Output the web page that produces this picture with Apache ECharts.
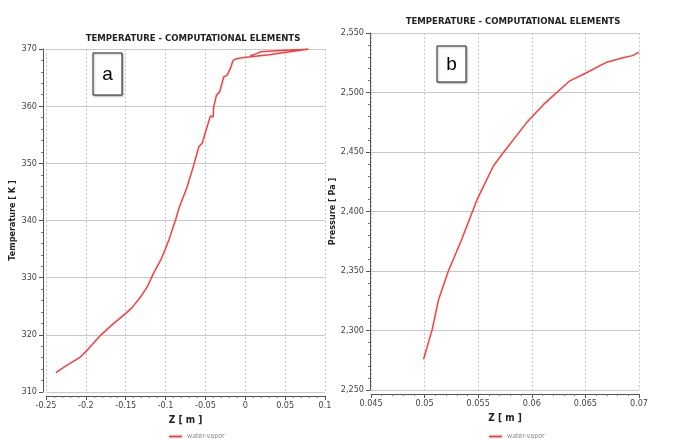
<!DOCTYPE html>
<html><head><meta charset="utf-8">
<script src="https://cdn.jsdelivr.net/npm/echarts@6/dist/echarts.min.js"></script>
<style>html,body{margin:0;padding:0;background:#fff}#c{width:673px;height:439px}</style>
</head><body><div id="c"></div>
<script>
// Panel a: temperature vs Z
const zA = [-0.2375,-0.227,-0.208,-0.199,-0.181,-0.165,-0.1496,-0.1417,-0.131,-0.123,-0.115,-0.106,-0.100,-0.0959,-0.0875,-0.0833,-0.0729,-0.0646,-0.0583,-0.0541,-0.0479,-0.0437,-0.0404,-0.0396,-0.0362,-0.0321,-0.0271,-0.0229,-0.0187,-0.0154,-0.0112,-0.002,0.030,0.060,0.079,0.050,0.019,0.0125,0.006];
const tA = [313.4,314.4,316.0,317.2,320.0,322.0,323.8,324.8,326.7,328.4,330.8,333.1,335.1,336.6,340.1,342.1,345.9,349.7,352.9,353.5,356.4,358.3,358.1,359.9,361.9,362.5,365.1,365.4,366.6,368.0,368.3,368.5,369.0,369.6,369.95,369.8,369.5,369.1,368.8];
// Panel b: pressure vs Z
const zB = [0.0499,0.0507,0.0513,0.0522,0.05345,0.0549,0.0564,0.0573,0.0595,0.0611,0.0635,0.0651,0.0670,0.0685,0.0694,0.0700];
const pB = [2275.8,2300.5,2325.8,2349.6,2376.3,2410.0,2438.0,2449.0,2474.5,2490.0,2509.5,2516.6,2525.5,2529.2,2531.0,2534.0];
const titleText = 'TEMPERATURE - COMPUTATIONAL ELEMENTS';
const seriesName = 'water-vapor';

const FONT = 'DejaVu Sans Condensed';
const RED = '#ff3b3b';
const chart = echarts.init(document.getElementById('c'));

function xAx(gi, min, max, interval, fmt) {
  return {
    type: 'value', gridIndex: gi, min: min, max: max, interval: interval, offset: 4,
    name: 'Z [ m ]', nameLocation: 'middle', nameGap: 19,
    nameTextStyle: {fontFamily: FONT, fontWeight: 'bold', fontSize: 10, color: '#222'},
    axisLine: {show: true, onZero: false, lineStyle: {color: '#555'}},
    axisTick: {show: true, length: 4, lineStyle: {color: '#555'}},
    minorTick: {show: true, splitNumber: 5, length: 2, lineStyle: {color: '#777'}},
    axisLabel: {fontFamily: FONT, fontSize: 9, color: '#444', margin: 5, formatter: fmt},
    splitLine: {show: true, lineStyle: {color: '#c8c8c8', type: [2, 2]}}
  };
}
function yAx(gi, min, max, interval, name, fmt, off, gap) {
  return {
    type: 'value', gridIndex: gi, min: min, max: max, interval: interval, offset: off,
    name: name, nameLocation: 'middle', nameRotate: 90, nameGap: gap,
    nameTextStyle: {fontFamily: FONT, fontWeight: 'bold', fontSize: 9, color: '#222'},
    axisLine: {show: true, onZero: false, lineStyle: {color: '#555'}},
    axisTick: {show: true, length: 4, lineStyle: {color: '#555'}},
    minorTick: {show: true, splitNumber: 5, length: 2, lineStyle: {color: '#777'}},
    axisLabel: {fontFamily: FONT, fontSize: 9, color: '#444', margin: 6, formatter: fmt},
    splitLine: {show: true, lineStyle: {color: '#c8c8c8', width: 1}}
  };
}
const fmtNum = v => String(v);
const fmtComma = v => v.toLocaleString('en-US');

const option = {
  backgroundColor: '#fff',
  animation: false,
  title: [
    {text: titleText, left: 188, top: 29, textAlign: 'center',
     textStyle: {fontFamily: FONT, fontWeight: 'bold', fontSize: 9.5, color: '#222'}},
    {text: titleText, left: 508, top: 12, textAlign: 'center',
     textStyle: {fontFamily: FONT, fontWeight: 'bold', fontSize: 9.5, color: '#222'}}
  ],
  legend: [
    {data: [seriesName], left: 164, top: 428, icon: 'rect', itemWidth: 13, itemHeight: 2, itemGap: 4,
     textStyle: {fontFamily: FONT, fontSize: 7, color: '#888'}},
    {data: [seriesName], left: 484, top: 428, icon: 'rect', itemWidth: 13, itemHeight: 2, itemGap: 4,
     textStyle: {fontFamily: FONT, fontSize: 7, color: '#888'}}
  ],
  grid: [
    {left: 46, top: 49, width: 279, height: 343},
    {left: 371, top: 33, width: 268, height: 357}
  ],
  xAxis: [xAx(0, -0.25, 0.1, 0.05, fmtNum), xAx(1, 0.045, 0.07, 0.005, fmtNum)],
  yAxis: [
    yAx(0, 310, 370, 10, 'Temperature [ K ]', fmtNum, 3, 20),
    yAx(1, 2250, 2550, 50, 'Pressure [ Pa ]', fmtComma, 1, 26)
  ],
  series: [
    {name: seriesName, type: 'line', xAxisIndex: 0, yAxisIndex: 0, showSymbol: false, symbol: 'none',
     lineStyle: {color: RED, width: 1.5}, itemStyle: {color: RED},
     data: zA.map((z, i) => [z, tA[i]])},
    {name: seriesName, type: 'line', xAxisIndex: 1, yAxisIndex: 1, showSymbol: false, symbol: 'none',
     lineStyle: {color: RED, width: 1.5}, itemStyle: {color: RED},
     data: zB.map((z, i) => [z, pB[i]])}
  ],
  graphic: [
    {type: 'rect', shape: {x: 93, y: 53, width: 29, height: 42},
     style: {fill: '#fff', stroke: '#222', lineWidth: 1, shadowBlur: 2, shadowColor: 'rgba(0,0,0,0.3)', shadowOffsetX: 1, shadowOffsetY: 1}},
    {type: 'text', x: 107.5, y: 75, style: {text: 'a', fontFamily: 'Liberation Sans', fontSize: 19, fill: '#000', align: 'center', verticalAlign: 'middle'}},
    {type: 'rect', shape: {x: 437, y: 46, width: 29, height: 36},
     style: {fill: '#fff', stroke: '#222', lineWidth: 1, shadowBlur: 2, shadowColor: 'rgba(0,0,0,0.3)', shadowOffsetX: 1, shadowOffsetY: 1}},
    {type: 'text', x: 451.5, y: 65, style: {text: 'b', fontFamily: 'Liberation Sans', fontSize: 19, fill: '#000', align: 'center', verticalAlign: 'middle'}}
  ]
};
chart.setOption(option);
</script></body></html>
